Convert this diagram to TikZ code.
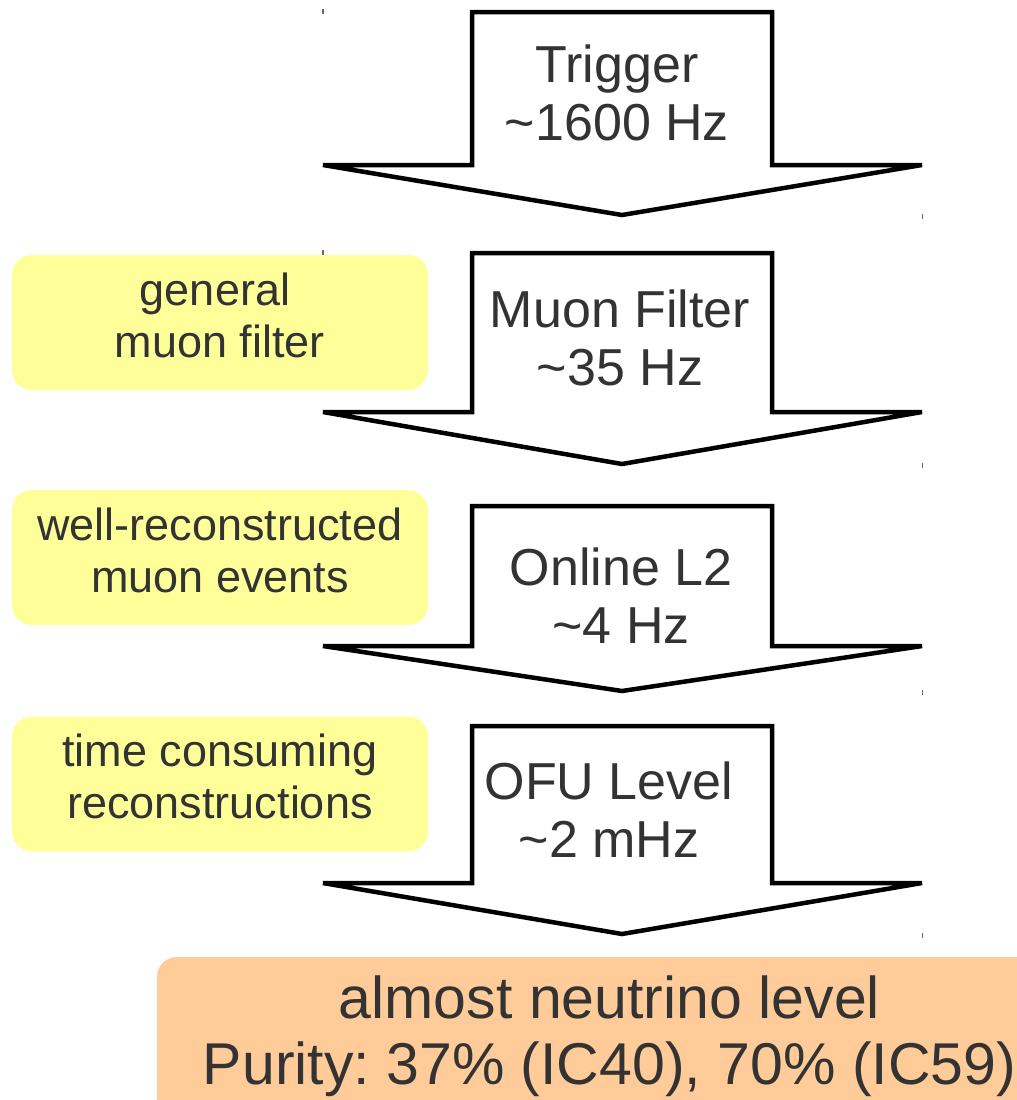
\documentclass[tikz,border=0pt]{standalone}
\usepackage{fontspec}
\setmainfont{Liberation Sans}
\frenchspacing
\definecolor{txt}{HTML}{333333}
\definecolor{noteyellow}{HTML}{FFFF99}
\definecolor{resultorange}{HTML}{FFCC99}
\tikzset{
  flowarrow/.style={draw=black, line width=4.5pt, fill=white},
  steptext/.style={align=center, text=txt, font=\fontsize{52}{58}\selectfont, inner sep=0pt},
  notebox/.style={fill=noteyellow, rounded corners=20pt, minimum width=416pt, minimum height=135pt,
    align=center, text=txt, font=\fontsize{45}{52}\selectfont, inner sep=0pt, text depth=15pt},
  tickmark/.style={draw=black!60, line width=1.2pt},
}
\newcommand{\flowshape}[3]{% top, base, tip
  \draw[flowarrow] (472,#1) -- (772,#1) -- (772,#2) -- (922,#2) -- (622,#3) -- (323,#2) -- (472,#2) -- cycle;
  \draw[tickmark] (323,#1-3) -- (323,#1+2);
  \draw[tickmark] (922.5,#3-1) -- (922.5,#3+4);
}
\begin{document}
\begin{tikzpicture}[x=1pt,y=-1pt]
\useasboundingbox (0,0) rectangle (1017,1100);
\clip (0,0) rectangle (1017,1100);
\fill[white] (0,0) rectangle (1017,1100);

\flowshape{12}{165}{215}
\flowshape{253}{412}{464}
\flowshape{506}{646}{691}
\flowshape{726}{883}{934}

\node[steptext] (trigger) at (617,93) {Trigger\\\textasciitilde1600 Hz};
\node[steptext] (muonfilter) at (620,338) {Muon Filter\\\textasciitilde35 Hz};
\node[steptext] (onlinel2) at (621,596) {Online L2\\\textasciitilde4 Hz};
\node[steptext] (ofulevel) at (609,810) {OFU Level\\\textasciitilde2 mHz};

\node[notebox] (note1) at (220,322.5) {general\hphantom{i}\\muon filter};
\node[notebox] (note2) at (220,557.5) {well-reconstructed\\muon events};
\node[notebox] (note3) at (220,784) {time consuming\\reconstructions};

\fill[resultorange, rounded corners=20pt] (157,957) rectangle (1050,1130);
\node[align=center, text=txt, font=\fontsize{59}{66}\selectfont, inner sep=0pt] (result) at (609.5,1036.5)
  {almost neutrino level\\Purity: 37\% (IC40), 70\% (IC59)};
\end{tikzpicture}
\end{document}
